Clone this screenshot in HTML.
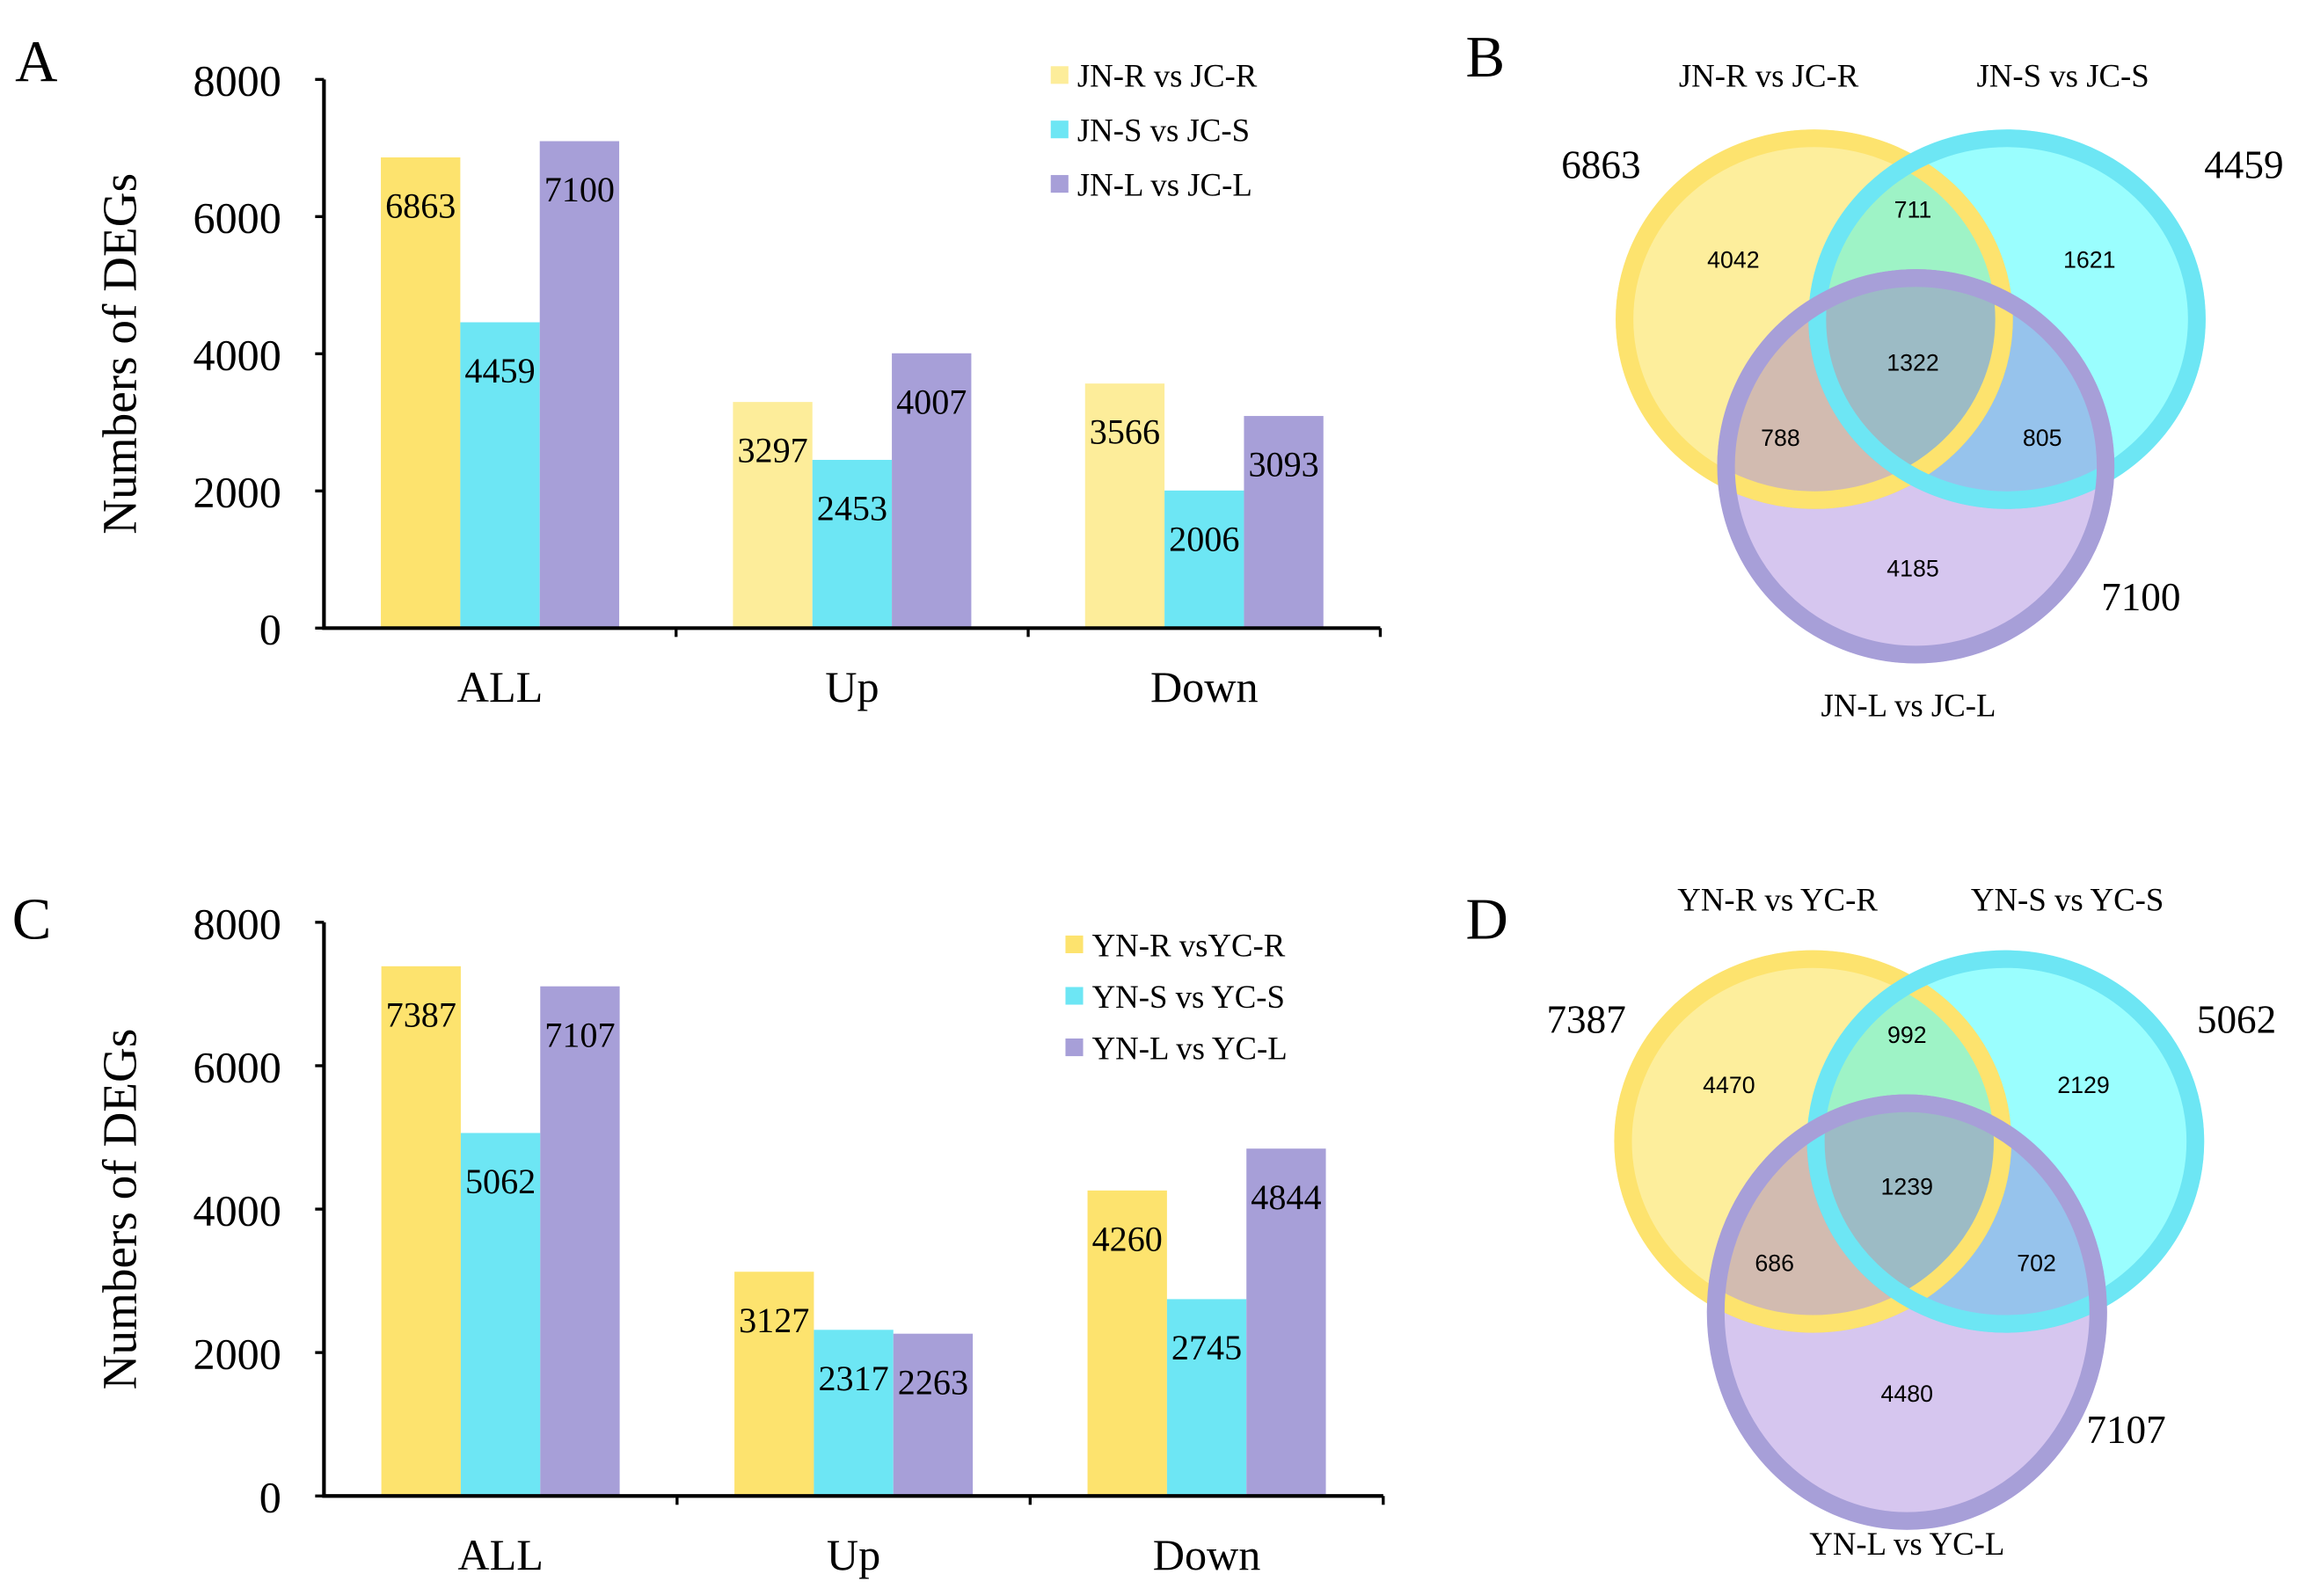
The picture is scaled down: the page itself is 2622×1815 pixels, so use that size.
<!DOCTYPE html>
<html><head><meta charset="utf-8"><style>
html,body{margin:0;padding:0;background:#fff}
svg{display:block}
text{font-family:"Liberation Serif",serif;fill:#000}
.sans{font-family:"Liberation Sans",sans-serif}
</style></head><body>
<svg id="fig" width="2622" height="1815" viewBox="0 0 1567 1085" xmlns="http://www.w3.org/2000/svg">
<defs>
<clipPath id="cYb"><ellipse cx="1233" cy="217" rx="135" ry="129"/></clipPath>
<clipPath id="cCb"><ellipse cx="1364" cy="217" rx="135" ry="129"/></clipPath>
<clipPath id="cYd"><ellipse cx="1232" cy="776" rx="135" ry="130"/></clipPath>
<clipPath id="cCd"><ellipse cx="1363" cy="776" rx="135" ry="130"/></clipPath>
</defs>
<g id="chartA"></g>
<g id="chartC"></g>

<g>
<text x="10" y="55" font-size="40">A</text>
<text x="996" y="52" font-size="40">B</text>
<ellipse cx="1233" cy="217" rx="135" ry="129" fill="#FDEE9C"/>
<ellipse cx="1364" cy="217" rx="135" ry="129" fill="#9AFEFE"/>
<ellipse cx="1364" cy="217" rx="135" ry="129" fill="#9EF3C6" clip-path="url(#cYb)"/>
<ellipse cx="1302" cy="317" rx="135" ry="134" fill="#D6C6EF"/>
<ellipse cx="1302" cy="317" rx="135" ry="134" fill="#D2BBB0" clip-path="url(#cYb)"/>
<ellipse cx="1302" cy="317" rx="135" ry="134" fill="#96C3EC" clip-path="url(#cCb)"/>
<g clip-path="url(#cYb)"><ellipse cx="1302" cy="317" rx="135" ry="134" fill="#9CBBC5" clip-path="url(#cCb)"/></g>
<ellipse cx="1233" cy="217" rx="129" ry="123" fill="none" stroke="#FDE36E" stroke-width="12"/>
<ellipse cx="1364" cy="217" rx="129" ry="123" fill="none" stroke="#6DE6F4" stroke-width="12"/>
<ellipse cx="1302" cy="317" rx="129" ry="128" fill="none" stroke="#A79FD8" stroke-width="12"/>
<g font-size="22" text-anchor="middle">
<text x="1202" y="59">JN-R vs JC-R</text><text x="1402" y="59">JN-S vs JC-S</text>
<text x="1297" y="487">JN-L vs JC-L</text></g>
<g font-size="27" text-anchor="middle">
<text x="1088" y="121">6863</text><text x="1525" y="121">4459</text><text x="1455" y="415">7100</text></g>
<g font-size="16" text-anchor="middle">
<text class="sans" x="1178" y="182">4042</text><text class="sans" x="1300" y="148">711</text>
<text class="sans" x="1420" y="182">1621</text><text class="sans" x="1300" y="252">1322</text>
<text class="sans" x="1210" y="303">788</text><text class="sans" x="1388" y="303">805</text>
<text class="sans" x="1300" y="392">4185</text></g>
</g>

<g>
<text x="8" y="638" font-size="40">C</text>
<text x="996" y="638" font-size="40">D</text>
<ellipse cx="1232" cy="776" rx="135" ry="130" fill="#FDEE9C"/>
<ellipse cx="1363" cy="776" rx="135" ry="130" fill="#9AFEFE"/>
<ellipse cx="1363" cy="776" rx="135" ry="130" fill="#9EF3C6" clip-path="url(#cYd)"/>
<ellipse cx="1296" cy="892" rx="136" ry="148" fill="#D6C6EF"/>
<ellipse cx="1296" cy="892" rx="136" ry="148" fill="#D2BBB0" clip-path="url(#cYd)"/>
<ellipse cx="1296" cy="892" rx="136" ry="148" fill="#96C3EC" clip-path="url(#cCd)"/>
<g clip-path="url(#cYd)"><ellipse cx="1296" cy="892" rx="136" ry="148" fill="#9CBBC5" clip-path="url(#cCd)"/></g>
<ellipse cx="1232" cy="776" rx="129" ry="124" fill="none" stroke="#FDE36E" stroke-width="12"/>
<ellipse cx="1363" cy="776" rx="129" ry="124" fill="none" stroke="#6DE6F4" stroke-width="12"/>
<ellipse cx="1296" cy="892" rx="130" ry="142" fill="none" stroke="#A79FD8" stroke-width="12"/>
<g font-size="22" text-anchor="middle">
<text x="1208" y="619">YN-R vs YC-R</text><text x="1405" y="619">YN-S vs YC-S</text>
<text x="1296" y="1057">YN-L vs YC-L</text></g>
<g font-size="27" text-anchor="middle">
<text x="1078" y="702">7387</text><text x="1520" y="702">5062</text><text x="1445" y="981">7107</text></g>
<g font-size="16" text-anchor="middle">
<text class="sans" x="1296" y="709">992</text><text class="sans" x="1175" y="743">4470</text>
<text class="sans" x="1416" y="743">2129</text><text class="sans" x="1296" y="812">1239</text>
<text class="sans" x="1206" y="864">686</text><text class="sans" x="1384" y="864">702</text>
<text class="sans" x="1296" y="953">4480</text></g>
</g>
</svg>
<script>
const categories = ["ALL", "Up", "Down"];
const seriesA_R = [6863, 3297, 3566];
const seriesA_S = [4459, 2453, 2006];
const seriesA_L = [7100, 4007, 3093];
const legendA = ["JN-R vs JC-R", "JN-S vs JC-S", "JN-L vs JC-L"];
const seriesC_R = [7387, 3127, 4260];
const seriesC_S = [5062, 2317, 2745];
const seriesC_L = [7107, 2263, 4844];
const legendC = ["YN-R vsYC-R", "YN-S vs YC-S", "YN-L vs YC-L"];
const yTicks = [0, 2000, 4000, 6000, 8000];
const yMax = 8000;

const NS = "http://www.w3.org/2000/svg";
function mk(parent, tag, attrs, txt) {
  const e = document.createElementNS(NS, tag);
  for (const k in attrs) e.setAttribute(k, attrs[k]);
  if (txt !== undefined) e.textContent = txt;
  parent.appendChild(e);
  return e;
}
function drawChart(g, cfg) {
  const x0 = 220, x1 = cfg.xEnd, y0 = cfg.y0, yTop = cfg.yTop;
  const ys = v => y0 - (v / yMax) * (y0 - yTop);
  const groupW = (x1 - x0) / categories.length;
  const barW = 54;
  const series = [cfg.R, cfg.S, cfg.L];
  const keys = ['r', 's', 'l'];
  series.forEach((arr, si) => {
    arr.forEach((v, ci) => {
      const cx = x0 + groupW * (ci + 0.5);
      const bx = cx - barW * 1.5 + si * barW;
      let col = cfg.colors[si];
      if (si === 0 && cfg.lightYellow && ci > 0) col = "#FDED9A";
      const r = mk(g, 'rect', {x: bx, y: ys(v), width: barW, height: y0 - ys(v), fill: col});
      
      
      const t = mk(g, 'text', {x: bx + barW / 2, y: ys(v) + 41, 'font-size': 24, 'text-anchor': 'middle'}, String(v));
      
      
    });
  });
  const ax = mk(g, 'path', {d: `M${x0},${yTop} V${y0} H${x1}`, stroke: '#000', 'stroke-width': 2.5, fill: 'none'});
  
  
  yTicks.forEach(v => {
    mk(g, 'line', {x1: x0 - 6, x2: x0, y1: ys(v), y2: ys(v), stroke: '#000', 'stroke-width': 2});
    const t = mk(g, 'text', {x: x0 - 29, y: ys(v) + 11, 'font-size': 30, 'text-anchor': 'end'}, String(v));
    
    
  });
  categories.forEach((c, ci) => {
    const tx = x0 + groupW * (ci + 1);
    mk(g, 'line', {x1: tx, x2: tx, y1: y0, y2: y0 + 6, stroke: '#000', 'stroke-width': 2});
    const t = mk(g, 'text', {x: x0 + groupW * (ci + 0.5), y: y0 + 50, 'font-size': 30, 'text-anchor': 'middle'}, c);
    
    
  });
  const yt = mk(g, 'text', {x: 0, y: 0, 'font-size': 33, 'text-anchor': 'middle', transform: `translate(92,${(y0 + yTop) / 2}) rotate(-90)`}, 'Numbers of  DEGs');
  
  
  cfg.legend.forEach((name, i) => {
    const ly = cfg.legY + i * cfg.legDy;
    const s = mk(g, 'rect', {x: cfg.legX, y: ly - 6, width: 12, height: 12, fill: cfg.colors[i] === "#FDE36E" && cfg.lightYellow ? "#FDED9A" : cfg.colors[i]});
    
    
    const t = mk(g, 'text', {x: cfg.legX + 18, y: ly + 8, 'font-size': 22}, name);
    
    
  });
}
const colors = ["#FDE36E", "#6DE6F4", "#A79FD8"];
drawChart(document.getElementById('chartA'), {R: seriesA_R, S: seriesA_S, L: seriesA_L, legend: legendA, colors, lightYellow: true, xEnd: 938, y0: 427, yTop: 54, legX: 714, legY: 51, legDy: 37});
drawChart(document.getElementById('chartC'), {R: seriesC_R, S: seriesC_S, L: seriesC_L, legend: legendC, colors, lightYellow: false, xEnd: 940, y0: 1017, yTop: 627, legX: 724, legY: 642, legDy: 35});
</script>
</body></html>
